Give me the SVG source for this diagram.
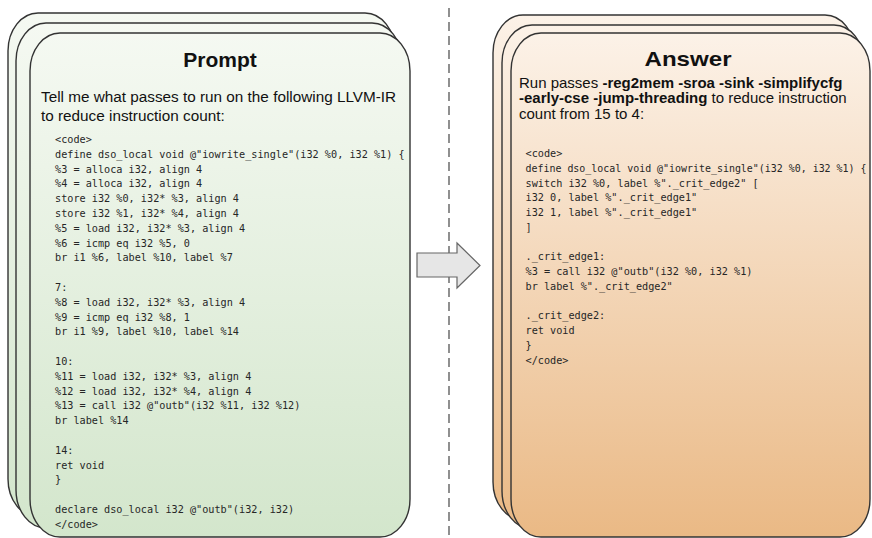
<svg xmlns="http://www.w3.org/2000/svg" width="872" height="538" viewBox="0 0 872 538">
<defs>
<linearGradient id="gGreen" x1="0" y1="0" x2="0" y2="1">
<stop offset="0" stop-color="#f5f9f2"/>
<stop offset="1" stop-color="#d3e6cc"/>
</linearGradient>
<linearGradient id="gPeach" x1="0" y1="0" x2="0" y2="1">
<stop offset="0" stop-color="#fcf2e8"/>
<stop offset="1" stop-color="#eab985"/>
</linearGradient>
<style>
.card{stroke:#333;stroke-width:1.4}
.green{fill:url(#gGreen)}
.peach{fill:url(#gPeach)}
.title{font-family:"Liberation Sans",Arial,sans-serif;font-weight:bold;font-size:21px;fill:#111;text-anchor:middle}
.para{font-family:"Liberation Sans",Arial,sans-serif;font-size:15.3px;fill:#111}
.para2{font-family:"Liberation Sans",Arial,sans-serif;font-size:15px;fill:#111}
.code{font-family:"DejaVu Sans Mono",monospace;font-size:10.2px;fill:#262626;white-space:pre}
.b{font-weight:bold}
</style>
</defs>
<line x1="449" y1="8" x2="449" y2="538" stroke="#555" stroke-width="1.3" stroke-dasharray="9,5"/>
<g id="prompt">
<rect class="card green" x="8" y="13" width="387" height="504" rx="30" ry="38"/>
<rect class="card green" x="16" y="23" width="386" height="505" rx="30" ry="38"/>
<rect class="card green" x="30" y="33" width="380" height="504" rx="30" ry="38"/>
<text class="title" x="220" y="67">Prompt</text>
<text class="para" x="41" y="101.5">Tell me what passes to run on the following LLVM-IR</text>
<text class="para" x="41" y="120.5">to reduce instruction count:</text>
<text class="code" xml:space="preserve"><tspan x="55" y="143">&lt;code&gt;</tspan><tspan x="55" y="157.8">define dso_local void @"iowrite_single"(i32 %0, i32 %1) {</tspan><tspan x="55" y="172.6">%3 = alloca i32, align 4</tspan><tspan x="55" y="187.4">%4 = alloca i32, align 4</tspan><tspan x="55" y="202.2">store i32 %0, i32* %3, align 4</tspan><tspan x="55" y="217">store i32 %1, i32* %4, align 4</tspan><tspan x="55" y="231.8">%5 = load i32, i32* %3, align 4</tspan><tspan x="55" y="246.6">%6 = icmp eq i32 %5, 0</tspan><tspan x="55" y="261.4">br i1 %6, label %10, label %7</tspan><tspan x="55" y="291">7:</tspan><tspan x="55" y="305.8">%8 = load i32, i32* %3, align 4</tspan><tspan x="55" y="320.6">%9 = icmp eq i32 %8, 1</tspan><tspan x="55" y="335.4">br i1 %9, label %10, label %14</tspan><tspan x="55" y="365">10:</tspan><tspan x="55" y="379.8">%11 = load i32, i32* %3, align 4</tspan><tspan x="55" y="394.6">%12 = load i32, i32* %4, align 4</tspan><tspan x="55" y="409.4">%13 = call i32 @"outb"(i32 %11, i32 %12)</tspan><tspan x="55" y="424.2">br label %14</tspan><tspan x="55" y="453.8">14:</tspan><tspan x="55" y="468.6">ret void</tspan><tspan x="55" y="483.4">}</tspan><tspan x="55" y="513">declare dso_local i32 @"outb"(i32, i32)</tspan><tspan x="55" y="527.8">&lt;/code&gt;</tspan></text>
</g>
<g id="answer">
<rect class="card peach" x="493" y="15" width="362" height="505" rx="30" ry="38"/>
<rect class="card peach" x="502" y="25" width="362" height="504" rx="30" ry="38"/>
<rect class="card peach" x="511" y="33" width="359" height="504" rx="30" ry="38"/>
<text class="title" x="688" y="66" textLength="87" lengthAdjust="spacingAndGlyphs">Answer</text>
<text class="para2" x="519" y="88">Run passes <tspan class="b">-reg2mem -sroa -sink -simplifycfg</tspan></text>
<text class="para2" x="519" y="103.3"><tspan class="b">-early-cse -jump-threading</tspan> to reduce instruction</text>
<text class="para2" x="519" y="118.6">count from 15 to 4:</text>
<text class="code" xml:space="preserve"><tspan x="525.5" y="157">&lt;code&gt;</tspan></text>
<text class="code" xml:space="preserve" x="525.5" y="171.75" textLength="341" lengthAdjust="spacingAndGlyphs">define dso_local void @"iowrite_single"(i32 %0, i32 %1) {</text>
<text class="code" xml:space="preserve"><tspan x="525.5" y="186.5">switch i32 %0, label %"._crit_edge2" [</tspan><tspan x="525.5" y="201.25">i32 0, label %"._crit_edge1"</tspan><tspan x="525.5" y="216">i32 1, label %"._crit_edge1"</tspan><tspan x="525.5" y="230.75">]</tspan><tspan x="525.5" y="260.25">._crit_edge1:</tspan><tspan x="525.5" y="275">%3 = call i32 @"outb"(i32 %0, i32 %1)</tspan><tspan x="525.5" y="289.75">br label %"._crit_edge2"</tspan><tspan x="525.5" y="319.25">._crit_edge2:</tspan><tspan x="525.5" y="334">ret void</tspan><tspan x="525.5" y="348.75">}</tspan><tspan x="525.5" y="363.5">&lt;/code&gt;</tspan></text>
</g>
<g id="connectors">
<path d="M417,253 L457,253 L457,243 L480,265.5 L457,288 L457,277 L417,277 Z" fill="#e6e6e6" stroke="#666" stroke-width="1.2"/>
</g>
</svg>
